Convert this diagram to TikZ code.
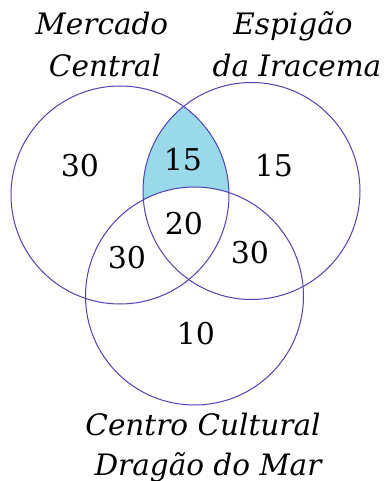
\documentclass[tikz,border=0pt]{standalone}
\usepackage{fontspec}
\setmainfont{DejaVu Serif}
\begin{document}
\begin{tikzpicture}[x=1pt,y=-1pt,
  ring/.style={draw=ringc, line width=1pt},
  num/.style={font=\fontsize{30}{30}\selectfont, inner sep=0pt},
  lab/.style={font=\fontsize{29.5}{30}\selectfont\itshape, anchor=base, inner sep=0pt}]
\definecolor{ringc}{RGB}{80,65,185}
\definecolor{shadec}{RGB}{153,217,234}
\useasboundingbox (0,0) rectangle (384,481);
\coordinate (A) at (120,195);
\coordinate (B) at (251.5,191);
\coordinate (C) at (194.5,296);
\begin{scope}
  \clip (A) circle (109);
  \clip (B) circle (108.5);
  \fill[shadec, even odd rule] (0,0) rectangle (384,481) (C) circle (109);
\end{scope}
\draw[ring] (A) circle (109);
\draw[ring] (B) circle (108.5);
\draw[ring] (C) circle (109);
\node[num] (a) at (80,166) {30};
\node[num] (ab) at (183,160) {15};
\node[num] (b) at (274,166) {15};
\node[num] (abc) at (184,224) {20};
\node[num] (ac) at (127,258) {30};
\node[num] (bc) at (250,253) {30};
\node[num] (c) at (196,334) {10};
\node[lab] (la1) at (102,35) {Mercado};
\node[lab] (la2) at (105,77) {Central};
\node[lab] (lb1) at (293,35) {Espigão};
\node[lab] (lb2) at (297,77) {da Iracema};
\node[lab] (lc1) at (203,435) {Centro Cultural};
\node[lab] (lc2) at (208,475) {Dragão do Mar};
\end{tikzpicture}
\end{document}
